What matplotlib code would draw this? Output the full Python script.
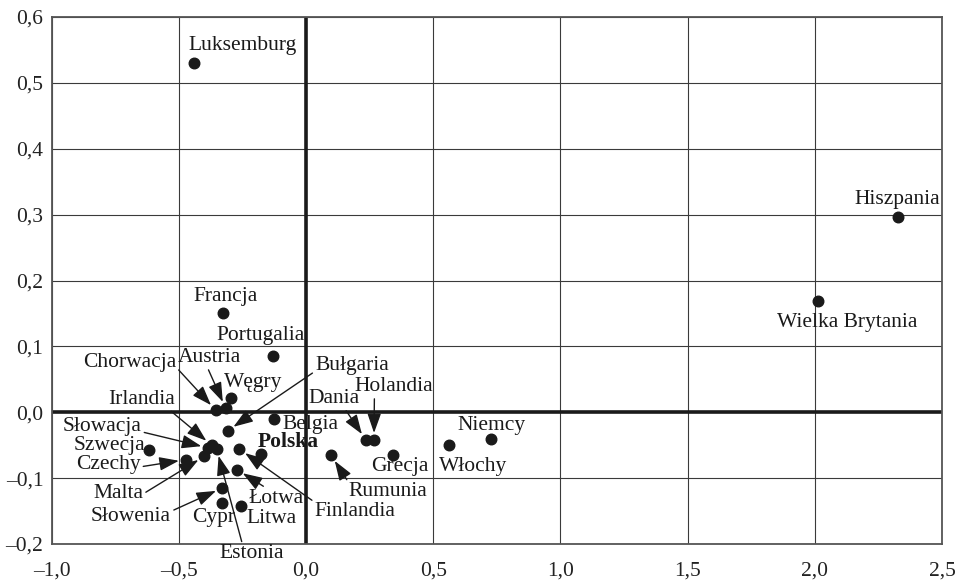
import matplotlib
matplotlib.use("Agg")
import matplotlib.pyplot as plt
from matplotlib.ticker import FuncFormatter

plt.rcParams['font.family'] = ['Liberation Serif', 'DejaVu Serif']

# ---- data ----
countries = ["Luksemburg", "Hiszpania", "Wielka Brytania", "Francja", "Portugalia",
             "Węgry", "Austria", "Chorwacja", "Bułgaria", "Belgia", "Polska",
             "Irlandia", "Słowacja", "Estonia", "Malta", "Czechy", "Szwecja",
             "Finlandia", "Łotwa", "Słowenia", "Cypr", "Litwa", "Dania",
             "Holandia", "Rumunia", "Grecja", "Włochy", "Niemcy"]
x_vals = [-0.440, 2.326, 2.012, -0.326, -0.130,
          -0.296, -0.316, -0.355, -0.308, -0.126, -0.177,
          -0.371, -0.385, -0.351, -0.400, -0.473, -0.617,
          -0.262, -0.272, -0.329, -0.329, -0.257, 0.235,
          0.267, 0.098, 0.341, 0.562, 0.726]
y_vals = [0.530, 0.296, 0.169, 0.151, 0.086,
          0.022, 0.006, 0.003, -0.028, -0.011, -0.063,
          -0.050, -0.054, -0.056, -0.067, -0.072, -0.057,
          -0.056, -0.087, -0.115, -0.138, -0.142, -0.042,
          -0.042, -0.065, -0.065, -0.050, -0.040]
x_ticks = [-1.0, -0.5, 0.0, 0.5, 1.0, 1.5, 2.0, 2.5]
y_ticks = [-0.2, -0.1, 0.0, 0.1, 0.2, 0.3, 0.4, 0.5, 0.6]

# ---- layout: label centre (data coords) and arrow start (relpos on text box, or None) ----
layout = {
    "Luksemburg": ((-0.248, 0.557), None),
    "Hiszpania": ((2.326, 0.323), None),
    "Wielka Brytania": ((2.126, 0.137), None),
    "Francja": ((-0.318, 0.175), None),
    "Portugalia": ((-0.177, 0.116), None),
    "Węgry": ((-0.208, 0.045), None),
    "Austria": ((-0.381, 0.083), (0.47, 0.0)),
    "Chorwacja": ((-0.695, 0.076), (1.0, 0.25)),
    "Bułgaria": ((0.181, 0.071), (0.0, 0.2)),
    "Belgia": ((0.016, -0.018), None),
    "Polska": ((-0.071, -0.045), None),
    "Irlandia": ((-0.648, 0.020), (0.9, 0.0)),
    "Słowacja": ((-0.802, -0.021), (1.0, 0.2)),
    "Estonia": ((-0.212, -0.215), (0.35, 1.0)),
    "Malta": ((-0.739, -0.124), (1.0, 0.5)),
    "Czechy": ((-0.778, -0.080), (1.0, 0.4)),
    "Szwecja": ((-0.774, -0.051), None),
    "Finlandia": ((0.193, -0.151), (0.0, 1.0)),
    "Łotwa": ((-0.118, -0.131), (0.35, 1.0)),
    "Słowenia": ((-0.688, -0.159), (1.0, 0.8)),
    "Cypr": ((-0.365, -0.160), None),
    "Litwa": ((-0.134, -0.162), None),
    "Dania": ((0.110, 0.021), (0.7, 0.0)),
    "Holandia": ((0.346, 0.039), (0.25, 0.0)),
    "Rumunia": ((0.322, -0.121), (0.0, 1.0)),
    "Grecja": ((0.369, -0.083), None),
    "Włochy": ((0.656, -0.082), None),
    "Niemcy": ((0.731, -0.020), None),
}

fig = plt.figure(figsize=(9.57, 5.81), dpi=100)
ax = fig.add_axes([0.054, 0.0637, 0.9303, 0.907])
ax.set_xlim(-1.0, 2.5)
ax.set_ylim(-0.2, 0.6)
ax.set_xticks(x_ticks)
ax.set_yticks(y_ticks)

def fmt(v, pos):
    s = f"{abs(v):.1f}".replace(".", ",")
    return ("\u2013" + s) if v < -1e-9 else s

ax.xaxis.set_major_formatter(FuncFormatter(fmt))
ax.yaxis.set_major_formatter(FuncFormatter(fmt))
ax.tick_params(length=0, labelsize=15.5, colors="#222222")
ax.tick_params(axis="x", pad=13)
ax.tick_params(axis="y", pad=6)

ax.grid(True, color="#3a3a3a", linewidth=0.8)
ax.set_axisbelow(True)
for sp in ax.spines.values():
    sp.set_color("#555555")
    sp.set_linewidth(1.3)

ax.axhline(0, color="#1a1a1a", linewidth=2.6, zorder=1.5)
ax.axvline(0, color="#1a1a1a", linewidth=2.6, zorder=1.5)

ax.plot(x_vals, y_vals, "o", color="#1a1a1a", markersize=7.6, zorder=3)

for name, xv, yv in zip(countries, x_vals, y_vals):
    (tx, ty), rel = layout[name]
    kw = dict(fontsize=15.5, ha="center", va="center", color="#1a1a1a",
              annotation_clip=False, zorder=4)
    if name == "Polska":
        kw["fontweight"] = "bold"
    if rel is not None:
        kw["arrowprops"] = dict(arrowstyle="-|>,head_length=1.2,head_width=0.42",
                                color="#1a1a1a", lw=1.0, mutation_scale=10,
                                shrinkA=0, shrinkB=5, relpos=rel)
    ax.annotate(name, xy=(xv, yv), xytext=(tx, ty), **kw)

fig.savefig("out.png", dpi=100)
